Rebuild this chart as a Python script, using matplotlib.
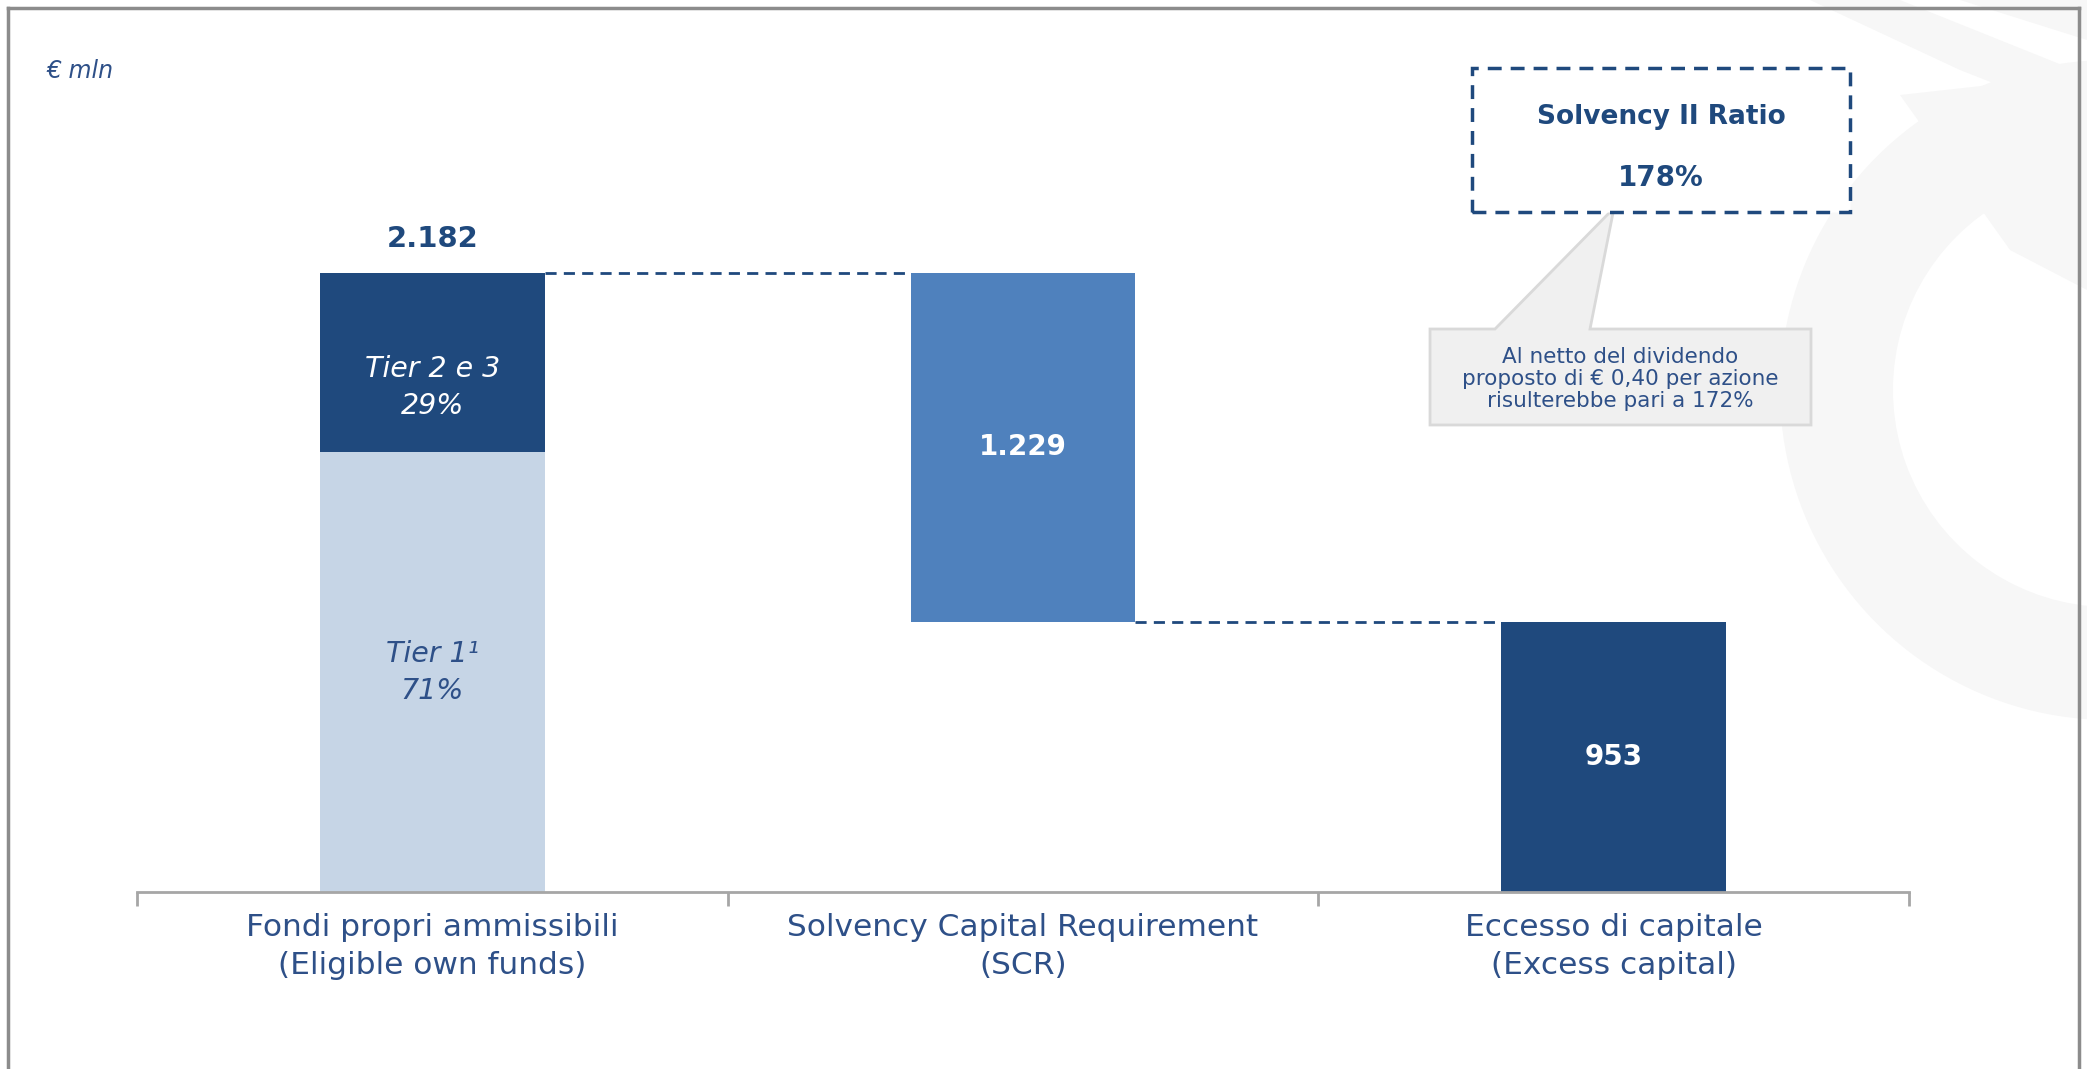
import matplotlib.pyplot as plt
from matplotlib.patches import Rectangle, Polygon, Wedge

NAVY = "#1F497D"
MID_BLUE = "#4F81BD"
LIGHT_BLUE = "#C6D5E6"
TEXT_BLUE = "#2E5088"
GREY = "#A6A6A6"

# data
categories = [
    "Fondi propri ammissibili\n(Eligible own funds)",
    "Solvency Capital Requirement\n(SCR)",
    "Eccesso di capitale\n(Excess capital)",
]
own_funds = 2182
scr = 1229
excess = 953
tier_shares = [0.71, 0.29]
tier_labels = ["Tier 1\u00b9\n71%", "Tier 2 e 3\n29%"]
ratio_title = "Solvency II Ratio"
ratio_value = "178%"
note_text = "Al netto del dividendo\nproposto di € 0,40 per azione\nrisulterebbe pari a 172%"
unit_label = "€ mln"

FIG_W, FIG_H = 2087, 1069


def fmt(v):
    return f"{v:,}".replace(",", ".")


def px(x, y):
    # pixel coords (top-left origin) -> overlay coords
    return (x, FIG_H - y)


plt.rcParams["font.family"] = ["DejaVu Sans"]
fig = plt.figure(figsize=(FIG_W / 100, FIG_H / 100), dpi=100)
fig.patch.set_facecolor("white")

# background layer: faint watermark + frame
bg = fig.add_axes([0, 0, 1, 1])
bg.set_xlim(0, FIG_W)
bg.set_ylim(0, FIG_H)
bg.axis("off")
wm = "#F7F7F7"
bg.add_patch(Wedge(px(2110, 390), 330, 70, 330, width=113, facecolor=wm, edgecolor="none"))
bg.add_patch(Polygon([px(1810, 0), px(1900, 0), px(2087, 75), px(2087, 120), px(1960, 70)],
                     closed=True, facecolor=wm, edgecolor="none"))
bg.add_patch(Polygon([px(1960, 0), px(2087, 0), px(2087, 40)],
                     closed=True, facecolor=wm, edgecolor="none"))
bg.add_patch(Polygon([px(1900, 95), px(1990, 85), px(2087, 170), px(2087, 290), px(2010, 250)],
                     closed=True, facecolor=wm, edgecolor="none"))
frame = "#8C8C8C"
bg.plot([8, 8], [0, FIG_H - 8], color=frame, lw=2.5)
bg.plot([8, 2079], [FIG_H - 8, FIG_H - 8], color=frame, lw=2.5)
bg.plot([2079, 2079], [0, FIG_H - 8], color=frame, lw=2.5)

# main chart
ax = fig.add_axes([137 / FIG_W, 1 - 892 / FIG_H, (1909 - 137) / FIG_W, 892 / FIG_H])
ax.patch.set_alpha(0)
ax.set_xlim(-0.5, 2.5)
ax.set_ylim(0, 3144)

w = 0.38
tier1 = own_funds * tier_shares[0]
tier23 = own_funds * tier_shares[1]
ax.bar(0, tier1, width=w, color=LIGHT_BLUE)
ax.bar(0, tier23, bottom=tier1, width=w, color=NAVY)
ax.bar(1, scr, bottom=excess, width=w, color=MID_BLUE)
ax.bar(2, excess, width=w, color=NAVY)

dash = (0, (4, 2.6))
ax.plot([w / 2, 1 - w / 2], [own_funds, own_funds], color=NAVY, lw=2, linestyle=dash)
ax.plot([1 + w / 2, 2 - w / 2], [excess, excess], color=NAVY, lw=2, linestyle=dash)

ax.annotate(fmt(own_funds), (0, own_funds), xytext=(0, 19), textcoords="offset points",
            ha="center", va="baseline", fontsize=21, fontweight="bold", color=NAVY)
ax.text(0, tier1 + tier23 * 0.36, tier_labels[1], ha="center", va="center", fontsize=20.5,
        style="italic", color="white", linespacing=1.4)
ax.text(0, tier1 / 2, tier_labels[0], ha="center", va="center", fontsize=20.5,
        style="italic", color=TEXT_BLUE, linespacing=1.4)
ax.text(1, excess + scr / 2, fmt(scr), ha="center", va="center", fontsize=20,
        fontweight="bold", color="white")
ax.text(2, excess / 2, fmt(excess), ha="center", va="center", fontsize=20,
        fontweight="bold", color="white")

for side in ["top", "right", "left"]:
    ax.spines[side].set_visible(False)
ax.spines["bottom"].set_color(GREY)
ax.spines["bottom"].set_linewidth(2)
ax.set_yticks([])
ax.set_xticks([0, 1, 2])
ax.set_xticklabels(categories, fontsize=22.5, color=TEXT_BLUE)
for lab in ax.get_xticklabels():
    lab.set_linespacing(1.4)
ax.tick_params(axis="x", which="major", length=0, pad=15)
ax.set_xticks([-0.5, 0.5, 1.5, 2.5], minor=True)
ax.tick_params(axis="x", which="minor", length=10, width=2, color=GREY, direction="out")

# foreground layer: unit, ratio box, callout
fg = fig.add_axes([0, 0, 1, 1])
fg.set_xlim(0, FIG_W)
fg.set_ylim(0, FIG_H)
fg.axis("off")

fg.text(*px(46, 71), unit_label, ha="left", va="center", fontsize=17, style="italic", color=TEXT_BLUE)

callout = [px(1430, 329), px(1495, 329), px(1614, 208), px(1590, 329),
           px(1811, 329), px(1811, 425), px(1430, 425)]
fg.add_patch(Polygon(callout, closed=True, facecolor="#F0F0F0", edgecolor="#D9D9D9", lw=2))
fg.text(*px(1620, 379), note_text, ha="center", va="center", fontsize=15.5,
        color=TEXT_BLUE, linespacing=1.12)

fg.add_patch(Rectangle(px(1472, 212), 1850 - 1472, 212 - 68, facecolor="white",
                       edgecolor=NAVY, lw=2.5, linestyle=(0, (4, 2.6))))
fg.text(*px(1661, 117), ratio_title, ha="center", va="center", fontsize=19,
        fontweight="bold", color=NAVY)
fg.text(*px(1661, 178), ratio_value, ha="center", va="center", fontsize=20,
        fontweight="bold", color=NAVY)

fig.savefig("out.png", dpi=100)
